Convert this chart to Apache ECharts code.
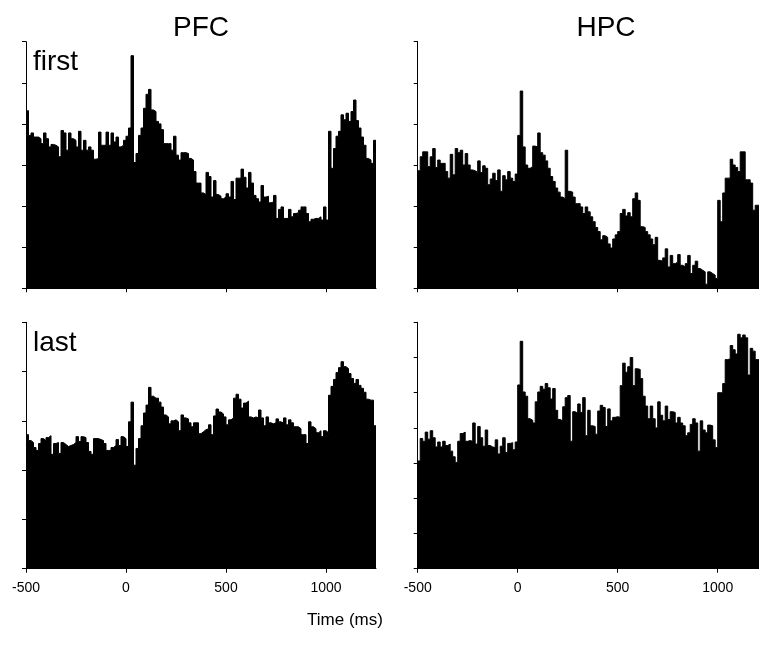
<!DOCTYPE html>
<html>
<head>
<meta charset="utf-8">
<script src="https://cdn.jsdelivr.net/npm/echarts@6/dist/echarts.min.js"></script>
<style>
html,body{margin:0;padding:0;background:#fff;}
#chart{width:759px;height:651px;}
</style>
</head>
<body>
<div id="chart"></div>
<script>
// histogram bins: left edges start at binStart, width binWidth (ms)
const binStart = -500;
const binWidth = 12.5;
const xTicks = [-500, 0, 500, 1000];

const pfcFirst = [
 21.6,18.6,18.9,18.4,18.4,18.2,17.6,18.9,18.2,17.2,
 17.5,17.4,17.2,16.0,19.2,18.9,16.8,18.9,18.2,18.0,
 17.2,19.1,16.8,18.0,16.8,17.2,16.8,15.7,15.8,19.0,
 17.4,17.4,19.0,17.4,18.9,17.8,18.4,17.2,17.4,18.0,
 18.5,19.5,28.3,15.3,16.4,18.6,19.5,21.9,23.6,24.2,
 21.7,21.5,20.3,20.0,19.3,17.6,17.6,17.6,16.8,18.5,
 16.2,15.6,16.5,16.5,16.4,15.8,15.6,14.2,12.8,12.8,
 11.6,11.4,14.1,13.6,11.1,13.1,11.4,11.2,10.9,11.1,
 11.5,11.1,13.0,10.8,13.4,13.4,14.5,13.5,12.2,14.1,
 12.8,11.3,10.9,10.5,12.5,11.1,11.2,10.4,10.5,11.3,
 8.5,9.6,9.9,8.5,8.5,9.6,8.7,9.1,9.2,9.5,
 9.9,9.9,9.1,8.1,8.4,8.5,8.5,8.7,8.3,9.9,
 8.3,19.1,14.6,17.0,18.5,19.1,21.1,20.5,21.3,20.3,
 21.5,22.9,20.4,19.5,18.4,17.4,15.8,15.6,15.2,18.0
];

const hpcFirst = [
 14.3,16.0,16.6,16.6,14.8,16.0,17.0,14.7,15.6,15.2,
 15.2,14.2,13.4,16.3,13.8,17.0,16.5,16.8,15.0,16.4,
 15.0,14.4,14.3,14.1,15.5,14.1,14.9,14.6,12.6,13.3,
 14.0,13.1,14.4,11.8,13.7,13.2,14.2,13.4,13.0,13.9,
 18.6,24.0,17.2,15.0,14.6,14.8,17.3,17.2,18.9,16.5,
 16.2,15.5,14.6,13.6,13.0,12.2,11.7,11.1,10.9,16.8,
 11.8,11.7,11.1,10.3,10.3,9.9,9.1,9.9,9.3,8.7,
 8.1,7.4,6.9,5.9,6.4,6.2,5.4,4.9,6.0,6.5,
 6.9,9.1,9.6,8.8,9.2,8.7,10.9,11.6,10.7,7.5,
 7.4,6.9,6.5,6.0,5.3,6.2,3.4,3.3,3.7,4.8,
 2.6,4.0,3.0,3.2,4.1,2.8,2.6,3.0,4.0,1.8,
 2.8,3.3,2.4,2.2,2.0,0.5,2.0,1.8,1.6,1.2,
 10.7,8.1,11.6,13.4,13.4,15.7,15.0,14.7,14.2,16.6,
 16.6,13.2,13.2,12.8,9.5,10.1,10.1
];

const pfcLast = [
 13.6,13.0,12.8,12.3,12.0,12.7,13.2,13.0,13.3,13.5,
 11.6,12.7,12.8,11.7,12.8,12.6,12.4,12.5,12.6,12.8,
 13.4,12.9,13.4,13.3,12.8,11.9,11.6,13.2,13.2,13.1,
 13.0,12.7,12.0,12.0,12.3,12.5,13.1,12.5,13.4,13.2,
 12.4,14.9,16.9,10.5,12.2,13.2,14.5,15.8,16.6,18.4,
 17.5,17.3,17.3,16.9,16.4,15.6,15.4,14.7,15.0,15.1,
 14.9,14.0,15.6,15.3,15.2,14.8,14.4,14.8,14.8,13.7,
 13.9,14.1,14.2,14.6,13.6,15.5,16.2,15.9,15.7,15.4,
 14.6,15.1,15.3,17.3,17.7,17.2,16.3,16.8,17.0,15.4,
 15.3,15.4,15.3,16.1,15.3,14.5,15.4,14.8,14.7,14.8,
 15.2,14.9,14.8,15.3,14.6,15.1,14.8,14.4,14.4,14.2,
 13.6,13.6,12.7,14.9,14.4,14.2,13.8,14.0,13.4,14.0,
 13.8,17.6,18.5,19.2,19.9,20.4,21.0,20.5,20.3,19.8,
 19.3,18.8,19.2,18.6,18.3,17.9,17.2,17.1,17.1,14.5
];

const hpcLast = [
 15.3,18.5,18.1,19.4,18.4,19.6,18.6,17.3,18.0,17.3,
 18.1,17.5,17.7,16.7,15.9,15.1,18.1,19.2,19.4,18.1,
 18.2,18.1,20.7,17.7,20.2,18.6,17.4,19.7,17.5,17.3,
 17.2,18.3,16.3,17.4,18.6,16.5,17.8,17.9,16.9,18.0,
 26.1,32.3,25.1,24.5,21.3,21.1,20.7,23.7,25.1,25.9,
 25.5,26.3,25.7,24.1,25.6,22.5,21.2,21.0,23.0,24.3,
 24.6,18.1,22.3,22.1,23.4,22.2,24.3,18.9,22.5,20.3,
 20.2,19.1,22.4,23.2,22.9,20.2,22.7,21.0,21.5,21.6,
 21.5,26.0,29.2,27.9,28.7,30.0,26.0,28.4,28.3,27.0,
 24.5,23.1,21.3,23.1,21.3,20.0,23.7,21.8,21.0,23.1,
 21.2,22.3,22.2,20.7,21.5,20.7,20.3,18.9,19.3,20.5,
 21.3,20.7,16.7,21.0,19.7,19.3,20.4,20.3,18.3,17.2,
 25.0,25.0,26.3,29.7,29.8,31.7,31.1,30.5,33.3,32.8,
 33.2,32.8,27.5,31.3,30.9,29.7,29.7
];

const panelTitles = ['PFC', 'HPC'];
const rowLabels = ['first', 'last'];
const xTitle = 'Time (ms)';
const yMax = [30, 30, 25, 35];
const xMax = [1250, 1206.5, 1250, 1206.5];

function stepData(vals) {
  const d = vals.map((v, i) => [binStart + i * binWidth, v]);
  d.push([binStart + vals.length * binWidth, vals[vals.length - 1]]);
  return d;
}

const FONT = '"Liberation Sans", Arial, Helvetica, sans-serif';
const grids = [
  {left: 26, top: 41.7, width: 350, height: 246.6},
  {left: 417.7, top: 41.7, width: 341.3, height: 246.6},
  {left: 26, top: 322.3, width: 350, height: 246.4},
  {left: 417.7, top: 322.3, width: 341.3, height: 246.4}
];
const allData = [pfcFirst, hpcFirst, pfcLast, hpcLast];

const xAxes = grids.map((g, i) => ({
  type: 'value', gridIndex: i, min: -500, max: xMax[i],
  axisLine: {show: true, onZero: false, lineStyle: {color: '#000', width: 1}},
  axisTick: {show: true, length: 4, customValues: xTicks, lineStyle: {color: '#000'}},
  axisLabel: {show: i >= 2, customValues: xTicks, margin: 12, color: '#000',
              fontSize: 14, fontFamily: FONT,
              formatter: function (v) { return String(v); }},
  splitLine: {show: false}
}));
const yAxes = grids.map((g, i) => ({
  type: 'value', gridIndex: i, min: 0, max: yMax[i], interval: 5,
  axisLine: {show: true, onZero: false, lineStyle: {color: '#000', width: 1}},
  axisTick: {show: true, length: 4, lineStyle: {color: '#000'}},
  axisLabel: {show: false},
  splitLine: {show: false}
}));
const series = allData.map((vals, i) => ({
  type: 'line', xAxisIndex: i, yAxisIndex: i, step: 'end',
  data: stepData(vals), symbol: 'none', showSymbol: false,
  lineStyle: {color: '#000', width: 1},
  areaStyle: {color: '#000', opacity: 1},
  silent: true
}));

function txt(x, y, text, size, align) {
  return {type: 'text', x: x, y: y, silent: true,
    style: {text: text, fontSize: size, fontFamily: FONT, fill: '#000',
            align: align || 'center', verticalAlign: 'middle'}};
}

const chart = echarts.init(document.getElementById('chart'), null, {renderer: 'canvas'});
chart.setOption({
  animation: false,
  backgroundColor: '#fff',
  grid: grids,
  xAxis: xAxes,
  yAxis: yAxes,
  series: series,
  graphic: [
    txt(201, 28, panelTitles[0], 28),
    txt(606, 28, panelTitles[1], 28),
    txt(33, 62, rowLabels[0], 28, 'left'),
    txt(33, 343, rowLabels[1], 28, 'left'),
    txt(345, 620, xTitle, 17)
  ]
});
</script>
</body>
</html>
